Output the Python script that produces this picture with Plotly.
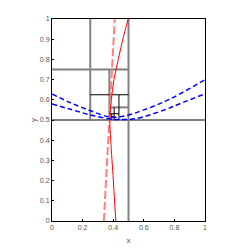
import plotly.graph_objects as go

# Quadtree subdivision segments: (x0, y0, x1, y1)
gray_segments = [
    (0.5, 0.0, 0.5, 1.0),
    (0.0, 0.5, 1.0, 0.5),
    (0.25, 0.5, 0.25, 1.0),
    (0.0, 0.75, 0.5, 0.75),
    (0.375, 0.5, 0.375, 0.75),
    (0.375, 0.5625, 0.5, 0.5625),
]
black_segments = [
    (0.25, 0.625, 0.5, 0.625),
    (0.4375, 0.5, 0.4375, 0.625),
    (0.40625, 0.5, 0.40625, 0.5625),
    (0.375, 0.53125, 0.4375, 0.53125),
    (0.375, 0.515625, 0.40625, 0.515625),
    (0.390625, 0.5, 0.390625, 0.53125),
]

# Red curves (x as function of y)
red_solid_y = [0.0, 0.2, 0.4, 0.5, 0.6, 0.7, 0.8, 0.9, 1.0]
red_solid_x = [0.417, 0.401, 0.384, 0.378, 0.388, 0.405, 0.433, 0.463, 0.498]
red_dash_y = [0.0, 0.5, 1.0]
red_dash_x = [0.339, 0.375, 0.41]

# Blue dashed curves
blue_a_x = [0.0, 0.116, 0.247, 0.378, 0.476, 0.6, 0.738, 0.85, 1.0]
blue_a_y = [0.629, 0.587, 0.547, 0.515, 0.52, 0.55, 0.592, 0.635, 0.699]
blue_b_x = [0.0, 0.116, 0.247, 0.378, 0.45, 0.55, 0.738, 0.85, 1.0]
blue_b_y = [0.579, 0.554, 0.526, 0.505, 0.502, 0.507, 0.551, 0.585, 0.63]

x_ticks = [0, 0.2, 0.4, 0.6, 0.8, 1]
y_ticks = [0, 0.1, 0.2, 0.3, 0.4, 0.5, 0.6, 0.7, 0.8, 0.9, 1]

fig = go.Figure()

def seg_trace(segs, color, width):
    xs, ys = [], []
    for (x0, y0, x1, y1) in segs:
        xs += [x0, x1, None]
        ys += [y0, y1, None]
    return go.Scatter(x=xs, y=ys, mode="lines",
                      line=dict(color=color, width=width),
                      showlegend=False, hoverinfo="skip")

fig.add_trace(seg_trace(gray_segments, "#808080", 2))
fig.add_trace(seg_trace(black_segments, "#000000", 1))

fig.add_trace(go.Scatter(x=red_dash_x, y=red_dash_y, mode="lines",
                         line=dict(color="#ff8080", width=2, dash="8px,3px"),
                         showlegend=False))
fig.add_trace(go.Scatter(x=red_solid_x, y=red_solid_y, mode="lines",
                         line=dict(color="#ff0000", width=1, shape="spline"),
                         showlegend=False))
fig.add_trace(go.Scatter(x=blue_a_x, y=blue_a_y, mode="lines",
                         line=dict(color="#0000ff", width=1.5, dash="5px,3px", shape="spline"),
                         showlegend=False))
fig.add_trace(go.Scatter(x=blue_b_x, y=blue_b_y, mode="lines",
                         line=dict(color="#0000ff", width=1.5, dash="5px,3px", shape="spline"),
                         showlegend=False))

axis_common = dict(
    showgrid=False, zeroline=False, automargin=False,
    showline=True, linecolor="#000000", linewidth=1, mirror=True,
    ticks="inside", ticklen=2, tickcolor="#000000", tickwidth=1,
    tickfont=dict(family="Liberation Sans", size=7, color="#555555"),
)

fig.update_layout(
    width=249, height=249,
    margin=dict(l=44, r=52, t=11, b=36, autoexpand=False),
    paper_bgcolor="white", plot_bgcolor="white",
    xaxis=dict(range=[0, 1], tickvals=x_ticks, ticktext=[str(v) for v in x_ticks],
               title=dict(text="x", font=dict(family="Liberation Sans", size=8, color="#555555"), standoff=6),
               **axis_common),
    yaxis=dict(range=[0, 1], tickvals=y_ticks, ticktext=[str(v) for v in y_ticks],
               title=dict(text="y", font=dict(family="Liberation Sans", size=8, color="#555555"), standoff=2),
               **axis_common),
)

fig.write_html("out.html")
